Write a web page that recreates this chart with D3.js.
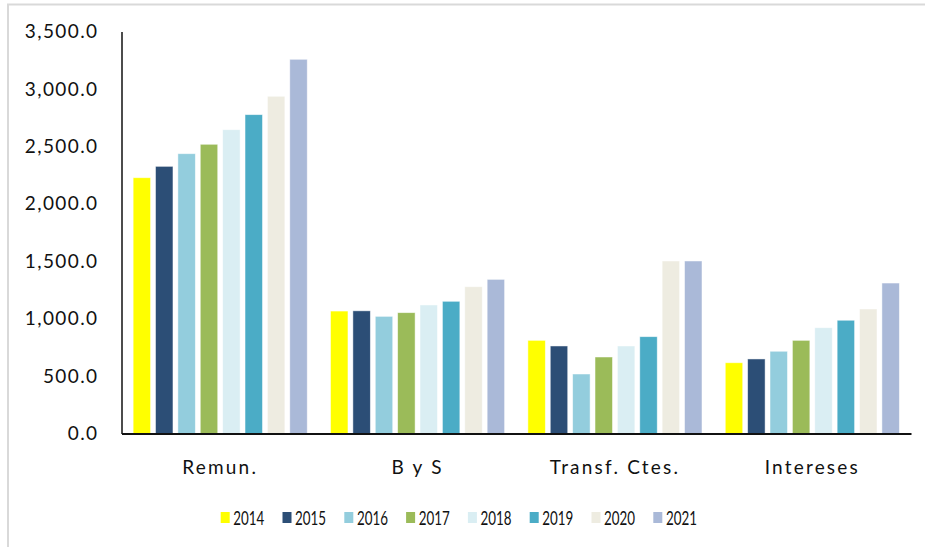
<!DOCTYPE html>
<html>
<head>
<meta charset="utf-8">
<script src="https://cdn.jsdelivr.net/npm/d3@7"></script>
<style>
  body { margin: 0; background: #fff; }
  svg { display: block; }
  .axis text { font-family: Lato, sans-serif; font-size: 19px; fill: #111; letter-spacing: 1.4px; }
  .xaxis text { letter-spacing: 2.2px; }
  .legend text { font-family: Lato, sans-serif; font-size: 19px; fill: #111; }
</style>
</head>
<body>
<svg id="chart"></svg>
<script>
var categories = ["Remun.", "B y S", "Transf. Ctes.", "Intereses"];
var years = ["2014", "2015", "2016", "2017", "2018", "2019", "2020", "2021"];
var colors = ["#FFFF00", "#2C4E76", "#93CDDD", "#9BBB59", "#DAEEF3", "#4BACC6", "#EEECE1", "#AAB9D8"];
// one array per year, in category order
var v2014 = [2227, 1066, 811, 616];
var v2015 = [2326, 1068, 762, 649];
var v2016 = [2436, 1020, 518, 716];
var v2017 = [2518, 1052, 666, 811];
var v2018 = [2645, 1119, 762, 921];
var v2019 = [2776, 1151, 843, 986];
var v2020 = [2936, 1278, 1502, 1084];
var v2021 = [3258, 1342, 1502, 1310];
var yTicks = [0, 500, 1000, 1500, 2000, 2500, 3000, 3500];

var series = [v2014, v2015, v2016, v2017, v2018, v2019, v2020, v2021];

var width = 925, height = 547;
var plotLeft = 121.5, plotRight = 911, plotTop = 31.5, plotBottom = 433.5;

var svg = d3.select("#chart").attr("width", width).attr("height", height);

// outer frame (only left and top edges show)
svg.append("rect")
  .attr("x", 8).attr("y", 4.5)
  .attr("width", 940).attr("height", 560)
  .attr("fill", "none").attr("stroke", "#d9d9d9").attr("stroke-width", 2);

var x0 = d3.scaleBand().domain(categories).range([plotLeft, plotRight]);
var x1 = d3.scaleBand().domain(years).range([0, x0.bandwidth()])
  .paddingInner(0.22).paddingOuter(0.52);
var y = d3.scaleLinear().domain([0, 3500]).range([plotBottom, plotTop]);

var rows = [];
categories.forEach(function(c, ci) {
  years.forEach(function(yr, si) {
    rows.push({cat: c, year: yr, value: series[si][ci], color: colors[si]});
  });
});

svg.append("g").selectAll("rect").data(rows).enter().append("rect")
  .attr("x", d => x0(d.cat) + x1(d.year))
  .attr("y", d => y(d.value))
  .attr("width", x1.bandwidth())
  .attr("height", d => y(0) - y(d.value))
  .attr("fill", d => d.color)
  .attr("stroke", "#ffffff")
  .attr("stroke-opacity", 0.6)
  .attr("stroke-width", 0.8);

var yAxis = svg.append("g")
  .attr("class", "axis")
  .attr("transform", "translate(" + plotLeft + ",0)")
  .call(d3.axisLeft(y).tickValues(yTicks).tickFormat(d3.format(",.1f"))
    .tickSize(0).tickPadding(23));
yAxis.select(".domain").attr("stroke", "#111").attr("stroke-width", 1.5);

var xAxis = svg.append("g")
  .attr("class", "axis xaxis")
  .attr("transform", "translate(0," + plotBottom + ")")
  .call(d3.axisBottom(x0).tickSize(0).tickPadding(27));
xAxis.select(".domain").attr("stroke", "#111").attr("stroke-width", 2);

// legend
var legend = svg.append("g").attr("class", "legend");
var item = legend.selectAll("g").data(years).enter().append("g")
  .attr("transform", (d, i) => "translate(" + (220.7 + i * 61.8) + ",512)");
item.append("rect")
  .attr("width", 9).attr("height", 11)
  .attr("fill", (d, i) => colors[i]);
item.append("text")
  .attr("x", 12.6).attr("y", 13)
  .attr("textLength", 31)
  .attr("lengthAdjust", "spacingAndGlyphs")
  .text(d => d);
</script>
</body>
</html>
